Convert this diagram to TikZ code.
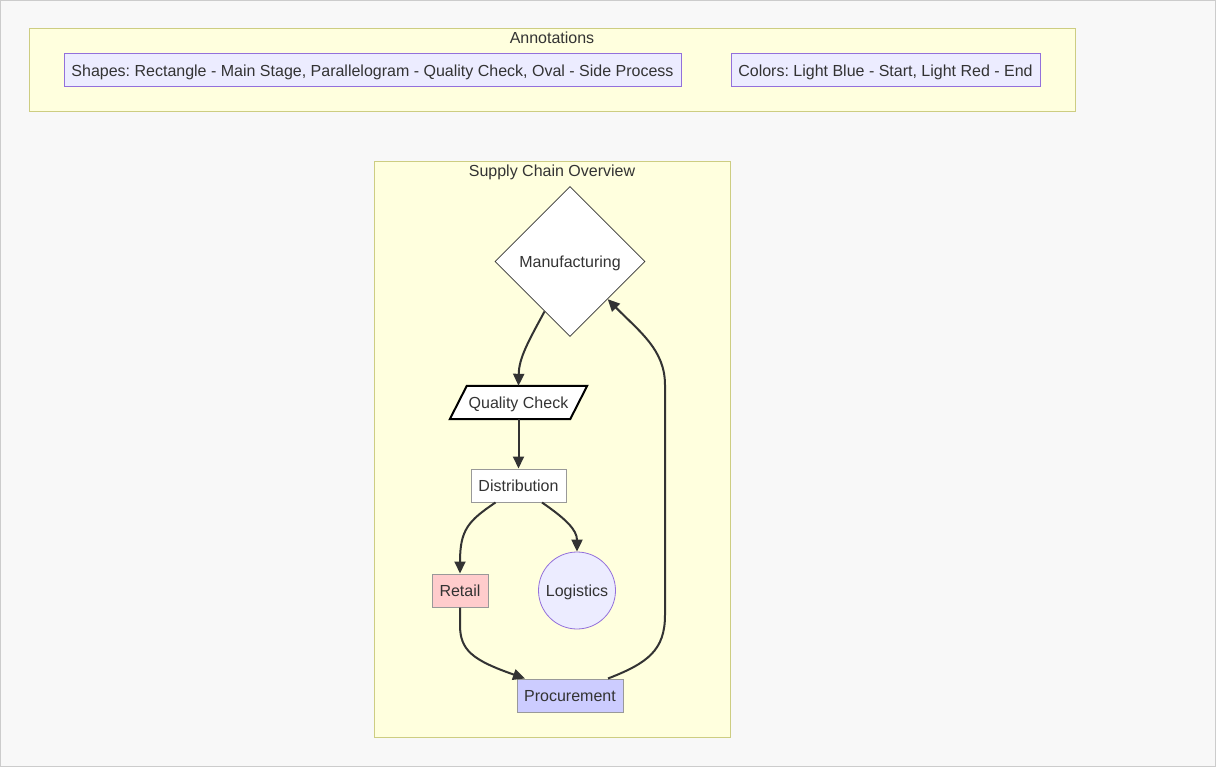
\documentclass[tikz,border=0pt]{standalone}
\usepackage{fontspec}
\setmainfont{Liberation Sans}
\usetikzlibrary{shapes.geometric,arrows.meta}
\definecolor{bgc}{HTML}{F8F8F8}
\definecolor{bgborder}{HTML}{CCCCCC}
\definecolor{clfill}{HTML}{FFFFDE}
\definecolor{clborder}{RGB}{205,205,130}
\definecolor{notefill}{HTML}{ECECFF}
\definecolor{noteborder}{HTML}{9370DB}
\definecolor{txt}{HTML}{333333}
\definecolor{retailfill}{HTML}{FFCCCC}
\definecolor{procfill}{HTML}{CCCCFF}
\definecolor{grayborder}{HTML}{999999}
\frenchspacing
\tikzset{
  x=1pt, y=-1pt,
  every node/.style={font=\fontsize{16}{19}\selectfont, text=txt, inner sep=0pt, text height=12pt, text depth=0pt},
  cluster/.style={draw=clborder, fill=clfill, line width=1pt},
  note/.style={draw=noteborder, fill=notefill, line width=1pt, minimum height=33, inner xsep=6pt},
  boxnode/.style={draw=grayborder, line width=1pt, minimum height=33, inner xsep=6pt},
  para/.style={draw=black, fill=white, line width=2pt, line join=miter},
  edge/.style={draw=txt, line width=2pt, -{Triangle[length=12pt,width=11pt]}},
}
\begin{document}
\begin{tikzpicture}
\useasboundingbox (0,0) rectangle (1216,767);
\fill[bgc] (0,0) rectangle (1216,767);
\draw[bgborder, line width=1pt] (0.5,0.5) rectangle (1215.5,766.5);

% Annotations cluster
\draw[cluster] (29,29) rectangle (1075,112);
\node (anntitle) at (552,38) {Annotations};
\node[note, minimum width=617] (shapes) at (372.5,70.5) {Shapes: Rectangle - Main Stage, Parallelogram - Quality Check, Oval - Side Process};
\node[note, minimum width=309] (colors) at (885.5,70.5) {Colors: Light Blue - Start, Light Red - End};

% Supply chain cluster
\draw[cluster] (374,162) rectangle (730,737);
\node (sctitle) at (552,171) {Supply Chain Overview};

\node[diamond, draw=txt, fill=white, line width=0.8pt, aspect=1, minimum width=150, minimum height=150] (mfg) at (570,261.5) {Manufacturing};
\node[minimum width=120, minimum height=33] (qc) at (518.5,402.5) {};
\draw[para] ([xshift=-8.5pt]qc.south west) -- ([xshift=8.5pt]qc.north west) -- ([xshift=8.5pt]qc.north east) -- ([xshift=-8.5pt]qc.south east) -- cycle;
\node (qclabel) at (qc.center) {Quality Check};
\node[boxnode, fill=white, minimum width=95] (dist) at (518.5,485.5) {Distribution};
\node[boxnode, fill=retailfill, minimum width=56] (retail) at (460,590.5) {Retail};
\node[circle, draw=noteborder, fill=notefill, line width=0.8pt, minimum size=77] (log) at (577,590.5) {Logistics};
\node[boxnode, fill=procfill, minimum width=106] (proc) at (570,695.5) {Procurement};

\coordinate (pin) at ([xshift=-45pt]proc.north);
\coordinate (pout) at ([xshift=38pt]proc.north);

\draw[edge] (mfg.243) .. controls (528,342) and (519,358) .. (qc.north);
\draw[edge] (qc.south) -- (dist.north);
\draw[edge] ([xshift=-23pt]dist.south) .. controls (468,521) and (460,530) .. (retail.north);
\draw[edge] ([xshift=23.5pt]dist.south) .. controls (566,519) and (577,530) .. (log.north);
\draw[edge] (retail.south) -- (460,625) .. controls (460,650) and (472,660) .. (pin);
\draw[edge] (pout) .. controls (648,663) and (665,650) .. (665,615) -- (665,385) .. controls (665,350) and (640,332) .. (mfg.-45);
\end{tikzpicture}
\end{document}
